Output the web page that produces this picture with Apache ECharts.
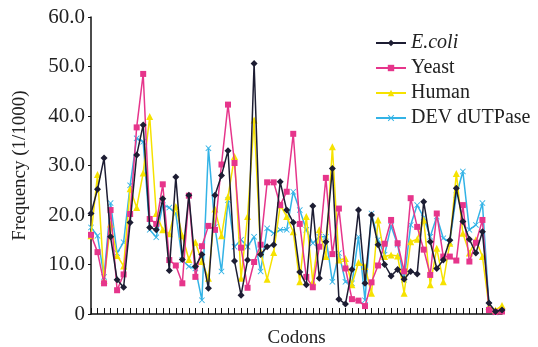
<!DOCTYPE html>
<html>
<head>
<meta charset="utf-8">
<script src="https://cdn.jsdelivr.net/npm/echarts@6/dist/echarts.min.js"></script>
<style>
  html, body { margin: 0; padding: 0; background: #fff; }
  #chart { width: 538px; height: 347px; }
</style>
</head>
<body>
<div id="chart"></div>
<script>
// 64 codons, values in 1/1000
const codons = Array.from({ length: 64 }, (_, i) => 'C' + (i + 1));

const ecoli = [20.3, 25.2, 31.5, 15.6, 6.9, 5.4, 18.5, 32.1, 38.2, 17.5, 17.0, 23.3, 8.8, 27.7, 11.0, 24.0,
  9.6, 12.0, 5.2, 24.0, 28.0, 33.0, 10.7, 3.8, 10.9, 50.6, 12.0, 13.6, 14.0, 26.7, 21.0, 18.5,
  8.5, 5.9, 21.8, 7.2, 14.6, 29.4, 3.0, 2.0, 9.0, 21.0, 6.2, 20.0, 14.0, 10.0, 7.7, 9.0,
  7.0, 8.6, 8.1, 22.7, 14.6, 9.2, 10.9, 14.9, 25.4, 18.7, 15.1, 12.3, 16.6, 2.2, 0.5, 0.8];

const yeast = [16.0, 12.5, 6.2, 21.0, 4.8, 8.0, 20.2, 37.7, 48.5, 19.2, 18.2, 26.2, 10.9, 9.8, 6.2, 23.9,
  7.5, 13.7, 17.8, 17.0, 30.2, 42.3, 30.5, 13.4, 5.3, 10.5, 14.0, 26.6, 26.6, 22.0, 24.7, 36.4,
  18.2, 7.5, 5.4, 13.6, 27.5, 12.1, 21.3, 9.2, 3.0, 2.7, 1.6, 6.4, 9.8, 14.2, 19.0, 14.3,
  8.6, 23.4, 17.6, 13.0, 7.9, 20.3, 11.6, 11.6, 10.8, 22.0, 10.6, 14.4, 19.0, 0.8, 0.4, 0.5];

const human = [15.8, 28.2, 6.8, 18.2, 11.8, 9.7, 25.3, 21.5, 28.5, 39.9, 20.3, 17.0, 16.2, 21.7, 15.8, 11.0,
  14.5, 10.6, 7.2, 21.2, 15.8, 23.7, 31.8, 7.2, 19.7, 39.2, 12.6, 7.0, 12.4, 22.0, 19.7, 16.6,
  6.5, 19.7, 6.5, 17.0, 11.6, 33.8, 10.9, 11.2, 5.9, 10.4, 9.6, 4.2, 19.0, 11.6, 11.9, 11.7,
  4.2, 14.6, 15.1, 19.0, 5.9, 13.3, 6.5, 14.3, 28.4, 16.3, 12.3, 15.0, 11.6, 1.5, 0.8, 1.7];

const devDUTPase = [17.5, 15.8, 7.5, 22.4, 12.3, 14.5, 26.0, 35.5, 34.8, 17.0, 15.5, 22.0, 21.5, 20.3, 10.9, 9.6,
  9.2, 2.8, 33.5, 17.6, 8.6, 23.0, 13.6, 15.0, 13.6, 15.6, 8.6, 17.3, 16.3, 17.0, 17.0, 24.7,
  21.0, 17.0, 14.3, 15.6, 15.6, 6.5, 12.3, 6.5, 6.2, 15.6, 2.8, 20.3, 15.0, 12.0, 17.8, 14.0,
  6.9, 18.0, 22.0, 19.5, 15.6, 19.7, 15.3, 14.5, 24.0, 28.8, 17.0, 18.0, 22.4, 1.8, 0.3, 0.6];

const yTicks = [0, 10, 20, 30, 40, 50, 60];

const serif = '"Liberation Serif", "DejaVu Serif", serif';
const xMark = 'path://M0,1L1,0L5,4L9,0L10,1L6,5L10,9L9,10L5,6L1,10L0,9L4,5Z';

const chart = echarts.init(document.getElementById('chart'));

function line(name, data, color, symbol, size, z) {
  return {
    name: name,
    type: 'line',
    data: data,
    symbol: symbol,
    symbolSize: size,
    showSymbol: true,
    showAllSymbol: true,
    z: z,
    lineStyle: { color: color, width: 1.5 },
    itemStyle: { color: color },
    emphasis: { disabled: true }
  };
}

chart.setOption({
  animation: false,
  grid: { left: 91, right: 36, top: 17, bottom: 33, containLabel: false, outerBoundsMode: 'none' },
  legend: {
    data: ['E.coli', 'Yeast', 'Human', 'DEV dUTPase'],
    orient: 'vertical',
    left: 370,
    top: 28,
    itemGap: 5,
    itemWidth: 30,
    itemHeight: 8,
    textStyle: {
      fontFamily: serif,
      fontSize: 20,
      color: '#222',
      rich: { it: { fontFamily: serif, fontSize: 20, fontStyle: 'italic', color: '#222' } }
    },
    formatter: function (name) {
      return name === 'E.coli' ? '{it|E.coli}' : name;
    }
  },
  xAxis: {
    type: 'category',
    data: codons,
    boundaryGap: false,
    name: 'Codons',
    nameLocation: 'middle',
    nameGap: 15,
    nameTextStyle: { fontFamily: serif, fontSize: 19, color: '#222' },
    axisLine: { lineStyle: { color: '#111', width: 1.5 } },
    axisTick: {
      inside: true,
      length: 6,
      lineStyle: { color: '#111', width: 1 },
      interval: function (index) { return index <= 60; }
    },
    axisLabel: { show: false },
    splitLine: { show: false }
  },
  yAxis: {
    type: 'value',
    min: yTicks[0],
    max: yTicks[yTicks.length - 1],
    interval: 10,
    name: 'Frequency (1/1000)',
    nameLocation: 'middle',
    nameGap: 61,
    nameTextStyle: { fontFamily: serif, fontSize: 19, color: '#222' },
    axisLine: { show: true, lineStyle: { color: '#111', width: 1.5 } },
    axisTick: { show: true, inside: false, length: 3, lineStyle: { color: '#111' } },
    axisLabel: {
      fontFamily: serif,
      fontSize: 21,
      color: '#222',
      margin: 6,
      formatter: function (v) { return v === 0 ? '0' : v.toFixed(1); }
    },
    splitLine: { show: false }
  },
  series: [
    line('DEV dUTPase', devDUTPase, '#33b3e6', xMark, 6, 2),
    line('Human', human, '#f6e200', 'triangle', 7, 3),
    line('Yeast', yeast, '#e6358b', 'rect', 6, 4),
    line('E.coli', ecoli, '#1d1d33', 'diamond', 7, 5)
  ]
});
</script>
</body>
</html>
